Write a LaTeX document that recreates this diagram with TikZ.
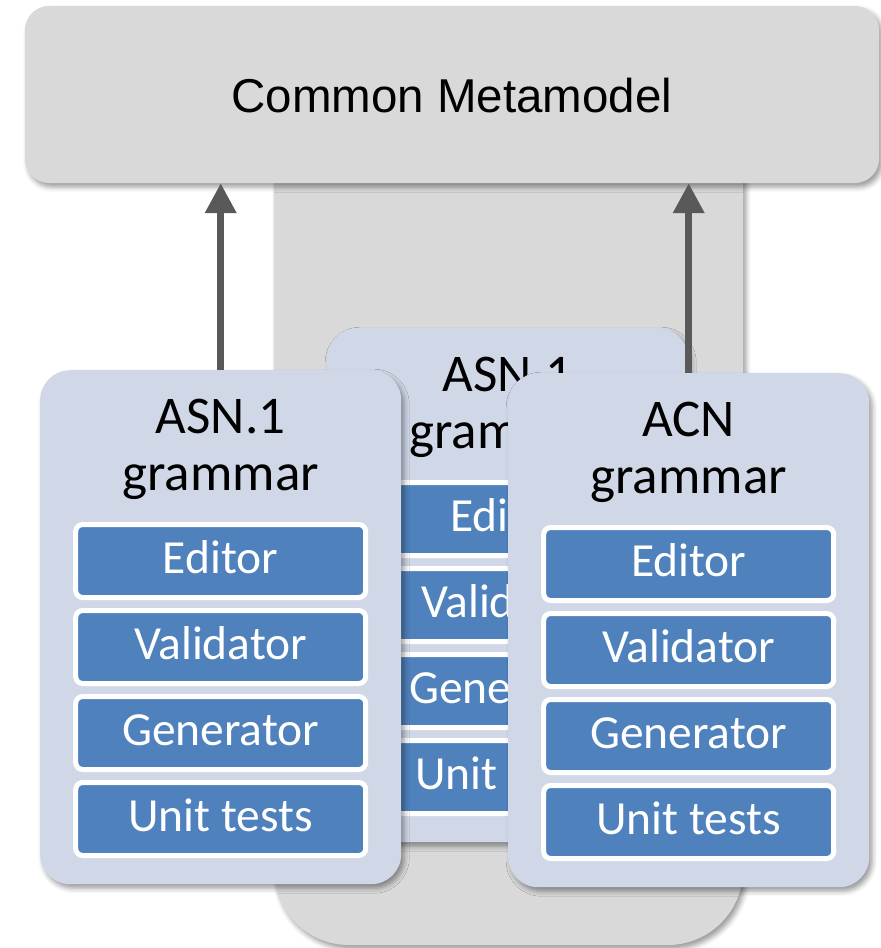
\documentclass[tikz,border=0pt]{standalone}
\usepackage{fontspec}
\setmainfont{Carlito}
\newfontfamily\headfont{Liberation Sans}
\usetikzlibrary{arrows.meta,shadows.blur}

\definecolor{panelgray}{HTML}{D9D9D9}
\definecolor{cardfill}{HTML}{D0D8E8}
\definecolor{toolblue}{HTML}{4F81BD}
\definecolor{arrowgray}{HTML}{595959}

\tikzset{
  softshadow/.style={blur shadow={shadow xshift=3pt, shadow yshift=-4pt,
      shadow blur radius=5pt, shadow opacity=40}},
  stackback/.style={fill=panelgray, rounded corners=75pt, inner sep=0pt,
      minimum width=469pt, minimum height=865pt, softshadow},
  metabox/.style={fill=panelgray, rounded corners=24pt, inner sep=0pt,
      minimum width=854pt, minimum height=177pt, softshadow,
      text height=36pt, text depth=0pt,
      font=\headfont\fontsize{47.5}{52}\selectfont},
  card/.style={fill=cardfill, rounded corners=30pt, inner sep=0pt,
      minimum width=361pt, minimum height=514pt, anchor=north west, softshadow},
  cardtitle/.style={anchor=base, inner sep=0pt, font=\fontsize{53}{58}\selectfont},
  tool/.style={fill=toolblue, draw=white, line width=5pt, rounded corners=7pt,
      inner sep=0pt, minimum width=290pt, minimum height=73pt,
      text=white, text height=31pt, text depth=6pt,
      font=\fontsize{47.5}{52}\selectfont},
  link/.style={draw=arrowgray, line width=7pt,
      -{Triangle[length=30pt,width=30pt]}}
}

% One grammar card: name, top-left x, top-left y, title lines
\newcommand\grammarcard[5]{%
  \node[card] (#1) at (#2,#3) {};
  \node[cardtitle] (#1-t1) at ([yshift=-63pt]#1.north) {#4};
  \node[cardtitle] (#1-t2) at ([yshift=-120pt]#1.north) {#5};
  \node[tool] (#1-edit) at ([yshift=-191pt]#1.north) {Editor};
  \node[tool] (#1-valid) at ([yshift=-277pt]#1.north) {Validator};
  \node[tool] (#1-gen) at ([yshift=-363pt]#1.north) {Generator};
  \node[tool] (#1-test) at ([yshift=-449pt]#1.north) {Unit tests};
}

\begin{document}
\begin{tikzpicture}[x=1pt, y=-1pt]
  \useasboundingbox (0,0) rectangle (881,948);

  % shared panel behind the stack of grammars (top tucked under the metamodel)
  \node[stackback] (stack) at (508.5,512.5) {};

  % common metamodel on top
  \node[metabox] (meta) at (452,94.5) {Common Metamodel};

  % grammar cards, back one first
  \grammarcard{mcard}{327}{328}{ASN.1}{grammar}
  \grammarcard{lcard}{40}{370}{ASN.1}{grammar}
  \grammarcard{rcard}{508}{373}{ACN}{grammar}

  % links up to the metamodel
  \draw[link] (lcard.north) -- (lcard.north |- meta.south);
  \draw[link] (rcard.north) -- (rcard.north |- meta.south);
\end{tikzpicture}
\end{document}
